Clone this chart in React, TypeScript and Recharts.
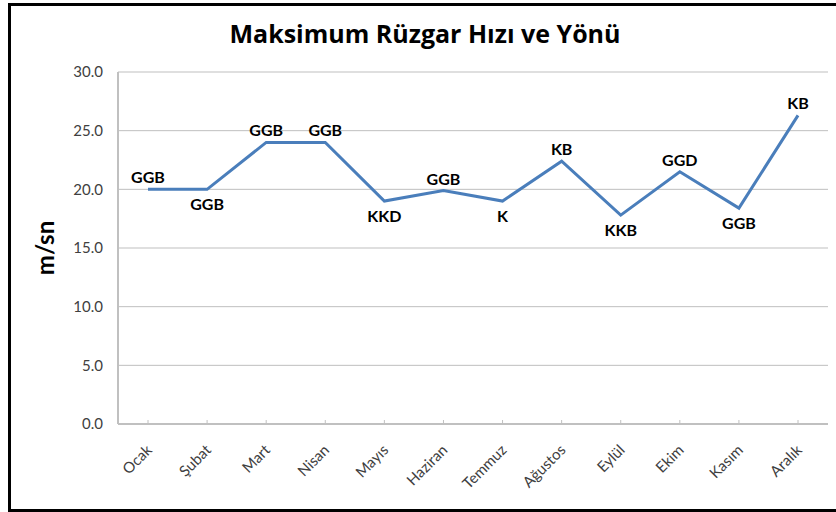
import React from "react";
import {
  LineChart,
  Line,
  XAxis,
  YAxis,
  CartesianGrid,
  LabelList,
} from "recharts";

// months, max wind speed (m/sn) and direction for each
const MONTHS = [
  "Ocak", "Şubat", "Mart", "Nisan", "Mayıs", "Haziran",
  "Temmuz", "Ağustos", "Eylül", "Ekim", "Kasım", "Aralık",
];
const SPEEDS = [20.0, 20.0, 24.0, 24.0, 19.0, 19.9, 19.0, 22.4, 17.8, 21.5, 18.4, 26.3];
const DIRECTIONS = ["GGB", "GGB", "GGB", "GGB", "KKD", "GGB", "K", "KB", "KKB", "GGD", "GGB", "KB"];
const Y_TICKS = [0, 5, 10, 15, 20, 25, 30];

// which direction labels sit under the line instead of above it
const LABEL_BELOW = [false, true, false, false, true, false, true, false, true, false, true, false];

const FONT = "Lato, Carlito, Calibri, 'Open Sans', sans-serif";
const TITLE_FONT = "'Open Sans', Lato, sans-serif";

const data = MONTHS.map((m, i) => ({ month: m, speed: SPEEDS[i], dir: DIRECTIONS[i] }));

const MonthTick = (props: any) => {
  const { x, y, payload } = props;
  return (
    <text
      x={x + 5}
      y={y + 31}
      textAnchor="end"
      transform={`rotate(-45, ${x + 5}, ${y + 31})`}
      fill="#404040"
      fontSize={15}
      fontFamily={FONT}
    >
      {payload.value}
    </text>
  );
};

const DirLabel = (props: any) => {
  const { x, y, value, index } = props;
  const below = LABEL_BELOW[index];
  return (
    <text
      x={x}
      y={below ? y + 21 : y - 6}
      textAnchor="middle"
      fill="#000"
      fontSize={16}
      fontWeight="bold"
      fontFamily={FONT}
    >
      {value}
    </text>
  );
};

export default function App() {
  return (
    <div style={{ position: "fixed", left: 0, top: 0, width: 836, height: 512, background: "#fff", overflow: "hidden" }}>
      <div
        style={{
          position: "absolute",
          left: 8,
          top: 3,
          width: 828,
          height: 509,
          border: "3px solid #000",
          borderRight: "none",
          boxSizing: "border-box",
        }}
      />
      <div
        style={{
          position: "absolute",
          left: 0,
          top: 17,
          width: 850,
          textAlign: "center",
          fontFamily: TITLE_FONT,
          fontSize: 25,
          fontWeight: "bold",
          lineHeight: "33px",
          color: "#000",
        }}
      >
        Maksimum Rüzgar Hızı ve Yönü
      </div>
      <div
        style={{
          position: "absolute",
          left: 45 - 50,
          top: 248 - 13,
          width: 100,
          height: 26,
          lineHeight: "26px",
          textAlign: "center",
          fontFamily: FONT,
          fontSize: 24,
          fontWeight: "bold",
          color: "#000",
          transform: "rotate(-90deg)",
        }}
      >
        m/sn
      </div>
      <div style={{ position: "absolute", left: 0, top: 0 }}>
        <LineChart width={836} height={512} data={data} margin={{ top: 72, right: 8, bottom: 8, left: 48 }}>
          <CartesianGrid vertical={false} stroke="#bfbfbf" strokeWidth={1} />
          <XAxis
            dataKey="month"
            height={80}
            padding={{ left: 30, right: 30 }}
            axisLine={{ stroke: "#c0c0c0", strokeWidth: 2 }}
            tickLine={{ stroke: "#c0c0c0" }}
            tickSize={-4}
            tickMargin={0}
            interval={0}
            tick={<MonthTick />}
          />
          <YAxis
            domain={[0, 30]}
            ticks={Y_TICKS}
            width={70}
            axisLine={{ stroke: "#c0c0c0", strokeWidth: 2 }}
            tickLine={false}
            tickSize={0}
            tickMargin={15}
            tickFormatter={(v: number) => v.toFixed(1)}
            tick={{ fill: "#404040", fontSize: 15, fontFamily: FONT }}
          />
          <Line
            type="linear"
            dataKey="speed"
            stroke="#4a7ebb"
            strokeWidth={3}
            dot={false}
            isAnimationActive={false}
          >
            <LabelList dataKey="dir" content={<DirLabel />} />
          </Line>
        </LineChart>
      </div>
    </div>
  );
}
